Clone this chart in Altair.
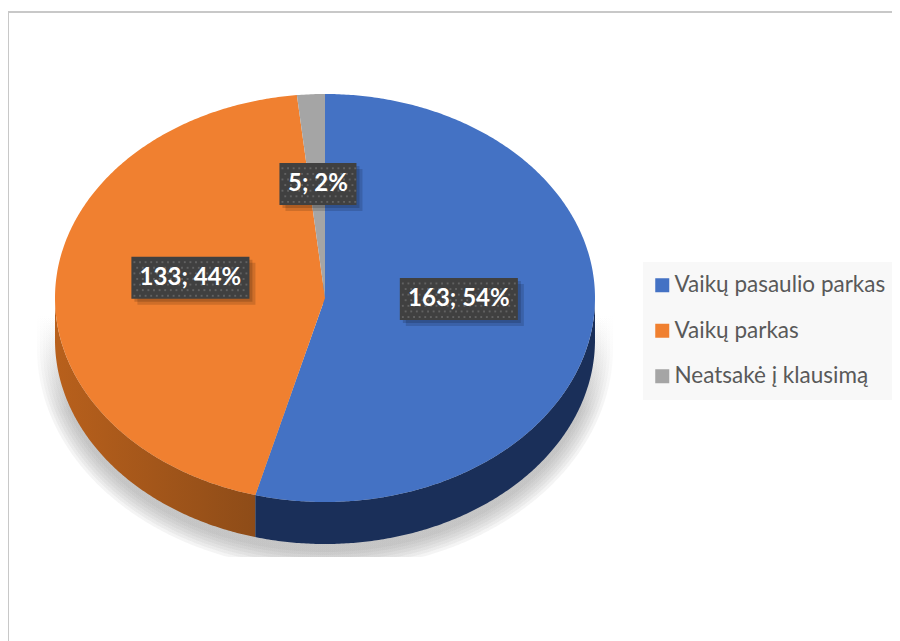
import numpy as np
import pandas as pd
import altair as alt

categories = ["Vaikų pasaulio parkas", "Vaikų parkas", "Neatsakė į klausimą"]
values = [163, 133, 5]
percents = [54, 44, 2]
colors = ["#4472c4", "#f08030", "#a5a5a5"]

W, H = 884, 633
CX, CY, RX, RY = 325, 298, 270, 204
DEPTH = 42 / RY
def ux(px): return (px - CX) / RX
def uy(py): return (CY - py) / RY
def ew(pxs): return pxs / RX
def eh(pxs): return pxs / RY

xdom = [ux(8), ux(8 + W)]
ydom = [uy(8 + H), uy(8)]
X = alt.X("x:Q", scale=alt.Scale(domain=xdom, nice=False, zero=False), axis=None)
Y = alt.Y("y:Q", scale=alt.Scale(domain=ydom, nice=False, zero=False), axis=None, stack=None)
Y2 = alt.Y2("y2:Q")

total = sum(values)
edges = np.cumsum([0] + values) / total * 2 * np.pi
grid = np.sin(np.linspace(-np.pi / 2, np.pi / 2, 361))


def top(x):
    return np.sqrt(np.clip(1 - x ** 2, 0, 1))


def radial(x, a):
    # height of the spoke at angle a, over position x
    return x * np.cos(a) / np.sin(a)


end_blue, end_orange = edges[1], edges[2]
xb, xo = np.sin(end_blue), np.sin(end_orange)

rows = []
def add(series, xs, upper, lower):
    for x, u, l in zip(xs, upper, lower):
        rows.append({"series": series, "x": float(x), "y": float(u), "y2": float(l)})

xs = np.unique(np.concatenate([grid[(grid >= xb) & (grid <= 1)], [xb, 0.0]]))
add(categories[0], xs, np.where(xs >= 0, top(xs), radial(xs, end_blue)), -top(xs))

xs = np.unique(np.concatenate([grid[(grid >= -1) & (grid <= 0)], [xb, xo, 0.0]]))
up = np.where(xs <= xo, top(xs), radial(xs, end_orange))
lo = np.where(xs <= xb, -top(xs), radial(xs, end_blue))
add(categories[1], xs, up, lo)

xs = np.unique(np.concatenate([grid[(grid >= xo) & (grid <= 0)], [xo, 0.0]]))
add(categories[2], xs, top(xs), radial(xs, end_orange))
slices = pd.DataFrame(rows)

xs = np.unique(np.concatenate([grid[grid <= xb], [xb]]))
side_orange = pd.DataFrame({"x": xs, "y": -top(xs), "y2": -top(xs) - DEPTH})
xs = np.unique(np.concatenate([grid[grid >= xb], [xb]]))
side_blue = pd.DataFrame({"x": xs, "y": -top(xs), "y2": -top(xs) - DEPTH})

# soft shadow under the pie
sh = []
floor = uy(557)
for g in [18, 15, 12, 9, 6, 3, 0]:
    rx, ry = (RX + g) / RX, (RY + g) / RY
    for x in grid * rx:
        low = -np.sqrt(max(1 - (x / rx) ** 2, 0)) * ry - DEPTH - eh(8)
        sh.append({"level": g, "x": float(x), "y": uy(315), "y2": float(max(low, floor))})
shadow = pd.DataFrame(sh)

BOX_H = 42
labels, boxes, dots = [], [], []
for c, v, p, a0, a1 in zip(categories, values, percents, edges[:-1], edges[1:]):
    mid = (a0 + a1) / 2
    lx, ly = 0.5 * np.sin(mid), 0.5 * np.cos(mid) + 0.06
    text = f"{v}; {p}%"
    w = len(text) * 13.67 + 8.67
    labels.append({"x": lx, "y": ly, "text": text})
    boxes.append({"x": lx - ew(w / 2), "x2": lx + ew(w / 2), "y": ly + eh(BOX_H / 2), "y2": ly - eh(BOX_H / 2)})
    for j, oy in enumerate(np.arange(-BOX_H / 2 + 3, BOX_H / 2, 5.6)):
        for ox in np.arange(-w / 2 + 3 + (j % 2) * 2.8, w / 2 - 1, 5.6):
            dots.append({"x": lx + ew(ox), "y": ly + eh(oy)})
labels, boxes, dots = pd.DataFrame(labels), pd.DataFrame(boxes), pd.DataFrame(dots)

shadow_layer = alt.Chart(shadow).mark_area(
    opacity=0.09,
    color=alt.Gradient(gradient="linear", x1=0, x2=0, y1=0, y2=1, stops=[
        alt.GradientStop(color="#ffffff", offset=0),
        alt.GradientStop(color="#888888", offset=0.4),
        alt.GradientStop(color="#888888", offset=1),
    ]),
).encode(x=X, y=Y, y2=Y2, detail="level:N")

orange_wall = alt.Chart(side_orange).mark_area(
    color=alt.Gradient(gradient="linear", x1=0, x2=1, y1=0, y2=0, stops=[
        alt.GradientStop(color="#b8601c", offset=0),
        alt.GradientStop(color="#8e4c18", offset=1),
    ])
).encode(x=X, y=Y, y2=Y2)
blue_wall = alt.Chart(side_blue).mark_area(color="#1a2f59").encode(x=X, y=Y, y2=Y2)

slice_layer = alt.Chart(slices).mark_area().encode(
    x=X, y=Y, y2=Y2,
    color=alt.Color("series:N",
        scale=alt.Scale(domain=categories, range=colors),
        legend=alt.Legend(
            title=None, orient="none", legendX=635, legendY=254, padding=12,
            fillColor="#f8f8f8", labelFont="Lato", labelFontSize=22.5, labelColor="#595959",
            labelLimit=400, labelOffset=1, symbolOffset=-4, symbolType="square", symbolSize=196,
            symbolStrokeWidth=0, rowPadding=22.5, symbolOpacity=1,
        )),
)

def box_layer(dx, dy, **kw):
    d = boxes.assign(x=boxes.x + ew(dx), x2=boxes.x2 + ew(dx), y=boxes.y - eh(dy), y2=boxes.y2 - eh(dy))
    return alt.Chart(d).mark_rect(**kw).encode(x=X, x2="x2:Q", y=Y, y2=Y2)

dot_layer = alt.Chart(dots).mark_square(size=3.6, color="#626262", opacity=1).encode(x=X, y=Y)
text_layer = alt.Chart(labels).mark_text(
    font="Lato", fontSize=24, fontWeight="bold", color="#ffffff", baseline="middle", align="center"
).encode(x=X, y=Y, text="text:N")

one = pd.DataFrame({"a": [0]})
frame_left = alt.Chart(one).mark_rule(color="#c8c8c8", strokeWidth=2).encode(
    x=alt.value(0), y=alt.value(4), y2=alt.value(H))
frame_top = alt.Chart(one).mark_rule(color="#c8c8c8", strokeWidth=2).encode(
    y=alt.value(4), x=alt.value(0), x2=alt.value(W))

chart = alt.layer(
    frame_left, frame_top, shadow_layer, orange_wall, blue_wall, slice_layer,
    box_layer(6, 6, color="#000000", opacity=0.14),
    box_layer(3, 3, color="#000000", opacity=0.16),
    box_layer(0, 0, color="#404040"),
    dot_layer, text_layer,
).properties(width=W, height=H, padding=0, background="#ffffff",
             autosize=alt.AutoSizeParams(type="none")).configure_view(stroke=None)

chart.save("out.html", embed_options={"renderer": "svg", "actions": False})
